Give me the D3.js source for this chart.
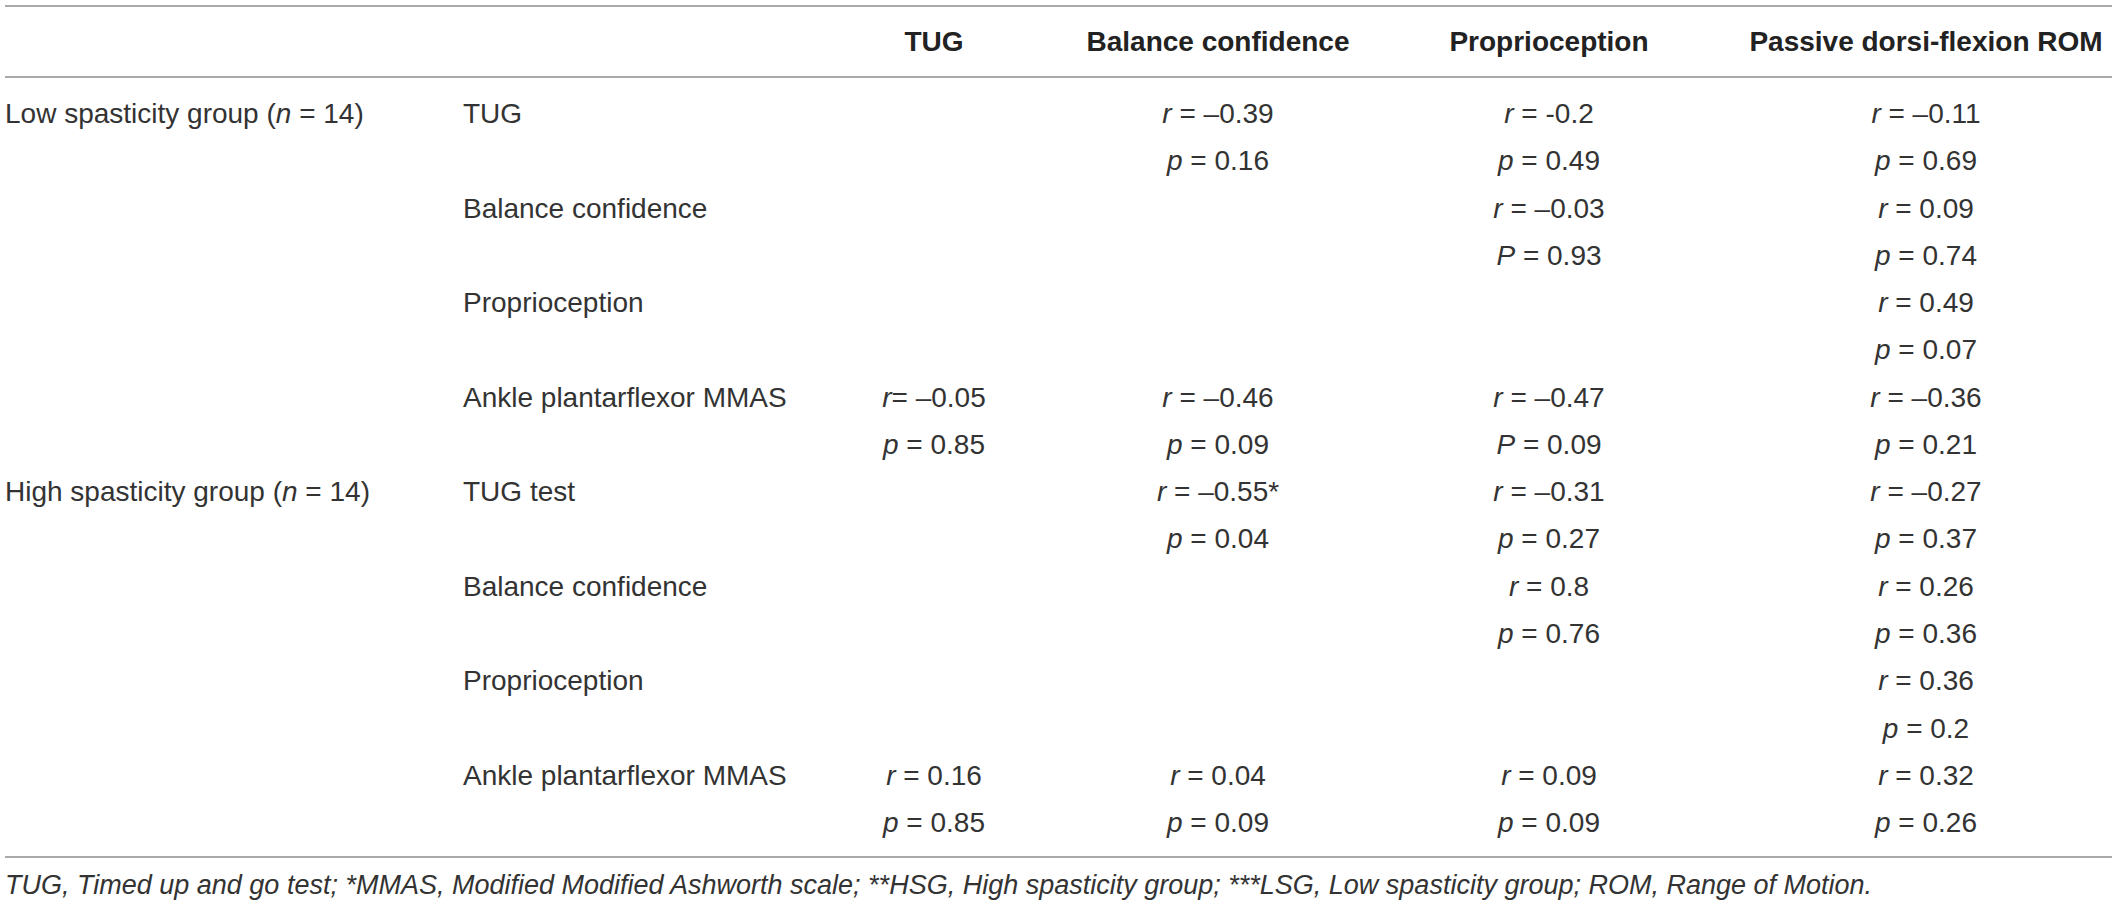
<!DOCTYPE html>
<html>
<head>
<meta charset="utf-8">
<script src="https://cdn.jsdelivr.net/npm/d3@7"></script>
<style>
  body { margin: 0; background: #fff; }
  text { font-family: "Liberation Sans", Arial, sans-serif; font-size: 28px; fill: #333; }
  .head { font-weight: bold; fill: #222; }
  .foot { font-size: 27px; font-style: italic; }
</style>
</head>
<body>
<div id="table"></div>
<script>
var svgWidth = 2117;
var svgHeight = 906;

// column headers and row labels
var columns = ["TUG", "Balance confidence", "Proprioception", "Passive dorsi-flexion ROM"];
var groups = ["Low spasticity group", "High spasticity group"];
var groupN = [14, 14];
var lsgRows = ["TUG", "Balance confidence", "Proprioception", "Ankle plantarflexor MMAS"];
var hsgRows = ["TUG test", "Balance confidence", "Proprioception", "Ankle plantarflexor MMAS"];

// r values as printed (null = empty cell), one row per variable, one entry per column
var lsgR = [
  [null, "\u20130.39", "-0.2", "\u20130.11"],
  [null, null, "\u20130.03", "0.09"],
  [null, null, null, "0.49"],
  ["\u20130.05", "\u20130.46", "\u20130.47", "\u20130.36"]
];
var lsgP = [
  [null, "0.16", "0.49", "0.69"],
  [null, null, "0.93", "0.74"],
  [null, null, null, "0.07"],
  ["0.85", "0.09", "0.09", "0.21"]
];
var hsgR = [
  [null, "\u20130.55*", "\u20130.31", "\u20130.27"],
  [null, null, "0.8", "0.26"],
  [null, null, null, "0.36"],
  ["0.16", "0.04", "0.09", "0.32"]
];
var hsgP = [
  [null, "0.04", "0.27", "0.37"],
  [null, null, "0.76", "0.36"],
  [null, null, null, "0.2"],
  ["0.85", "0.09", "0.09", "0.26"]
];
// printing quirks of the original table: capital P, "r=" without space
var capitalP = ["0-1-2", "0-3-2"];
var tightR = ["0-3-0"];

var footnote = "TUG, Timed up and go test; *MMAS, Modified Modified Ashworth scale; **HSG, High spasticity group; ***LSG, Low spasticity group; ROM, Range of Motion.";

var svg = d3.select("#table").append("svg")
    .attr("width", svgWidth)
    .attr("height", svgHeight);

var xCol = d3.scaleOrdinal().domain(columns).range([934, 1218, 1549, 1926]);
var yRow = d3.scaleLinear().domain([0, 15]).range([113, 822]);

// rules
[6, 77, 857].forEach(function(y) {
  svg.append("line")
    .attr("x1", 5).attr("x2", 2112)
    .attr("y1", y).attr("y2", y)
    .attr("stroke", "#a9a9a9")
    .attr("stroke-width", 2);
});

// header
svg.selectAll("text.head")
  .data(columns)
  .enter()
  .append("text")
    .attr("class", "head")
    .attr("x", function(d) { return xCol(d); })
    .attr("y", 51)
    .attr("text-anchor", "middle")
    .text(function(d) { return d; });

// cells
var cells = [];
var allRows = [lsgRows, hsgRows];
var allR = [lsgR, hsgR];
var allP = [lsgP, hsgP];
groups.forEach(function(g, gi) {
  allRows[gi].forEach(function(label, ri) {
    columns.forEach(function(col, ci) {
      var r = allR[gi][ri][ci];
      if (r === null) return;
      var key = gi + "-" + ri + "-" + ci;
      var base = gi * 8 + ri * 2;
      cells.push({col: col, row: base, sym: "r", eq: tightR.indexOf(key) >= 0 ? "= " : " = ", val: r});
      cells.push({col: col, row: base + 1, sym: capitalP.indexOf(key) >= 0 ? "P" : "p", eq: " = ", val: allP[gi][ri][ci]});
    });
  });
});

var cellText = svg.selectAll("text.cell")
  .data(cells)
  .enter()
  .append("text")
    .attr("class", "cell")
    .attr("x", function(d) { return xCol(d.col); })
    .attr("y", function(d) { return yRow(d.row); })
    .attr("dy", "0.36em")
    .attr("text-anchor", "middle");
cellText.append("tspan").style("font-style", "italic").text(function(d) { return d.sym; });
cellText.append("tspan").text(function(d) { return d.eq + d.val; });

// group labels
var gLabel = svg.selectAll("text.group")
  .data(groups)
  .enter()
  .append("text")
    .attr("class", "group")
    .attr("x", 5)
    .attr("y", function(d, i) { return yRow(i * 8); })
    .attr("dy", "0.36em");
gLabel.append("tspan").text(function(d) { return d + " ("; });
gLabel.append("tspan").style("font-style", "italic").text("n");
gLabel.append("tspan").text(function(d, i) { return " = " + groupN[i] + ")"; });

// variable labels
var varLabels = [];
allRows.forEach(function(rows, gi) {
  rows.forEach(function(label, ri) { varLabels.push({label: label, row: gi * 8 + ri * 2}); });
});
svg.selectAll("text.var")
  .data(varLabels)
  .enter()
  .append("text")
    .attr("class", "var")
    .attr("x", 463)
    .attr("y", function(d) { return yRow(d.row); })
    .attr("dy", "0.36em")
    .text(function(d) { return d.label; });

// footnote
svg.append("text")
  .attr("class", "foot")
  .attr("x", 5)
  .attr("y", 894)
  .text(footnote);
</script>
</body>
</html>
